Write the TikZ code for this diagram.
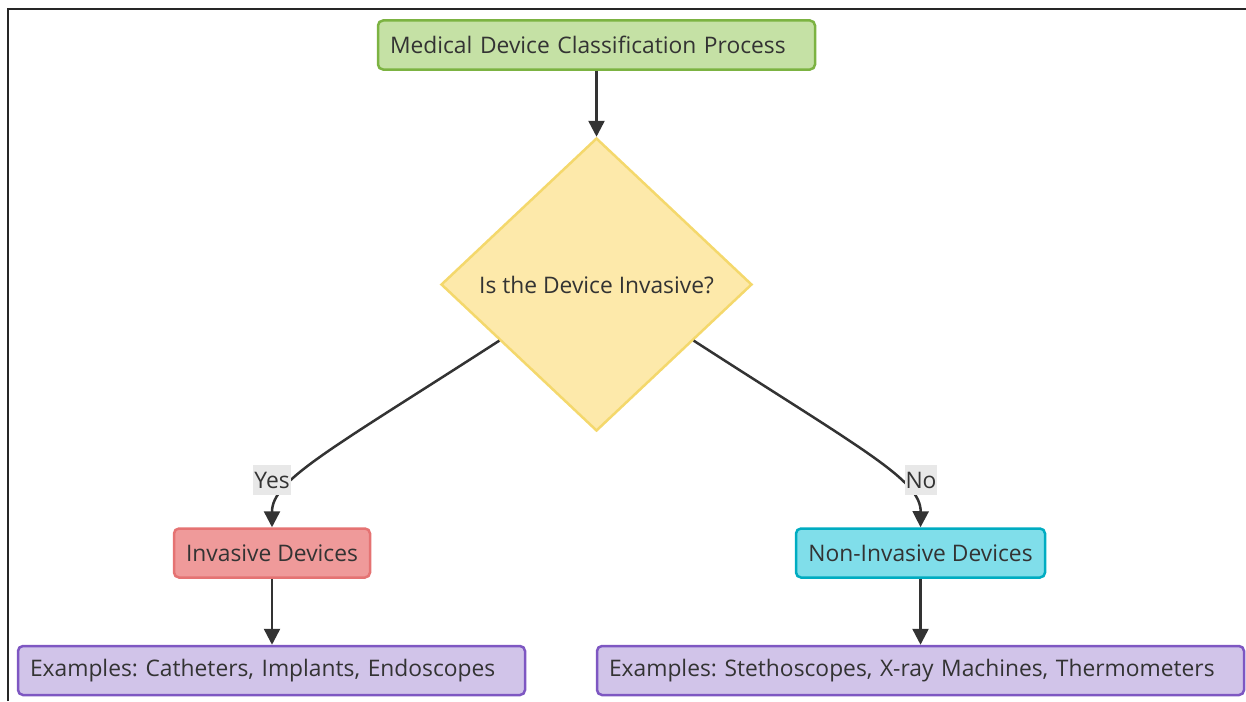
\documentclass[tikz,border=0pt]{standalone}
\usepackage{fontspec}
\setmainfont{Open Sans}
\frenchspacing
\usetikzlibrary{shapes.geometric,arrows.meta,calc}
\definecolor{txt}{HTML}{333333}
\definecolor{gfill}{HTML}{C5E1A5}\definecolor{gdraw}{HTML}{7CB342}
\definecolor{yfill}{HTML}{FDE9AA}\definecolor{ydraw}{HTML}{F4D86C}
\definecolor{rfill}{HTML}{EF9A9A}\definecolor{rdraw}{HTML}{E57373}
\definecolor{cfill}{HTML}{80DEEA}\definecolor{cdraw}{HTML}{00ACC1}
\definecolor{pfill}{HTML}{D1C4E9}\definecolor{pdraw}{HTML}{7E57C2}
\definecolor{lblbg}{HTML}{E8E8E8}
\begin{document}
\begin{tikzpicture}[x=1pt,y=-1pt,
  font=\fontsize{22.8}{27}\selectfont, text=txt,
  box/.style={draw, rounded corners=5pt, line width=2.5pt, inner xsep=12pt, inner ysep=0pt,
    minimum height=49pt, align=left},
  cbox/.style={draw, rounded corners=5pt, line width=2.5pt, inner xsep=2pt, inner ysep=0pt,
    minimum height=49pt},
  dia/.style={diamond, draw=ydraw, fill=yfill, line width=2.5pt, inner sep=0pt, align=center},
  arr/.style={draw=txt, line width=2.5pt, -{Triangle[length=16pt,width=16pt]}},
  lbl/.style={fill=lblbg, inner xsep=1pt, inner ysep=0pt, minimum height=30pt},
  frame/.style={draw=black!85, line width=1.5pt}]
\useasboundingbox (0,0) rectangle (1246,701);
\draw[frame] (8,701) -- (8,9) -- (1246,9);

\node[box, draw=gdraw, fill=gfill, text width=413pt] (top) at (596.5,45) {Medical Device Classification Process};
\node[dia, minimum width=311pt, minimum height=293pt] (dec) at (596.5,284.5) {Is the Device Invasive?};
\node[cbox, draw=rdraw, fill=rfill, minimum width=196pt] (inv) at (272,553) {Invasive Devices};
\node[cbox, draw=cdraw, fill=cfill, minimum width=249pt] (non) at (920.5,553) {Non-Invasive Devices};
\node[box, draw=pdraw, fill=pfill, text width=483pt] (exl) at (271.5,670.5) {Examples: Catheters, Implants, Endoscopes};
\node[box, draw=pdraw, fill=pfill, text width=623pt] (exr) at (920.5,670.5) {Examples: Stethoscopes, X-ray Machines, Thermometers};

\coordinate (dl) at ($(dec.west)!0.38!(dec.south)$);
\coordinate (dr) at ($(dec.east)!0.38!(dec.south)$);

\draw[arr] (top.south) -- (dec.north);
\draw[arr] (dl) .. controls (330,450) and (272,480) .. (inv.north);
\draw[arr] (dr) .. controls (863,450) and (921,480) .. (non.north);
\draw[arr] (inv.south) -- (exl.north -| inv.south);
\draw[arr] (non.south) -- (exr.north -| non.south);

\node[lbl] (yes) at (272,480) {Yes};
\node[lbl] (no) at (921,480) {No};
\end{tikzpicture}
\end{document}
